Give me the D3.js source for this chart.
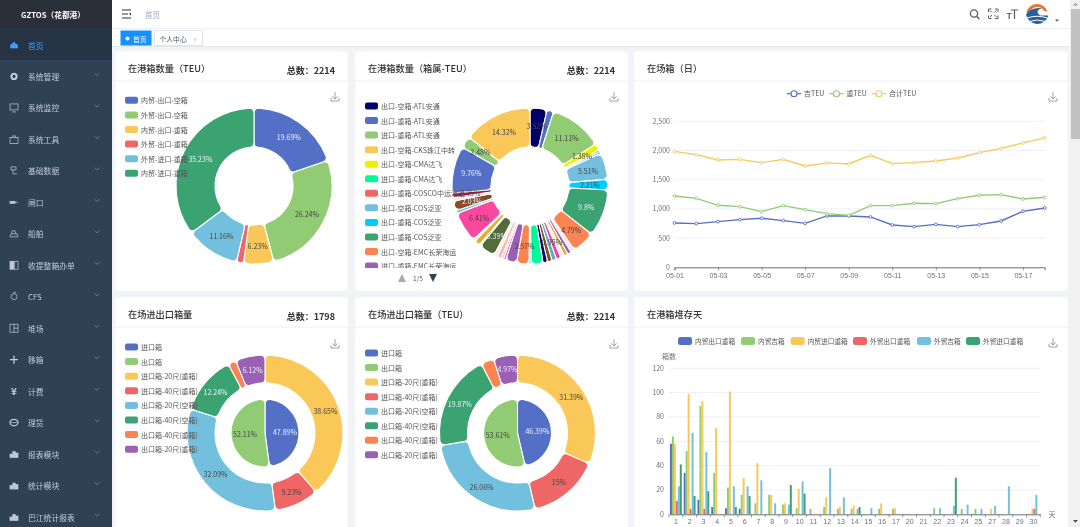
<!DOCTYPE html>
<html lang="zh"><head><meta charset="utf-8">
<script src="https://cdn.jsdelivr.net/npm/d3@7"></script>
<style>
html,body{margin:0;padding:0;overflow:hidden;background:#f2f3f7}
svg{display:block;font-family:"Noto Sans CJK SC","Noto Sans",sans-serif;filter:blur(.3px)}
text{dominant-baseline:central}
</style></head><body>
<svg id="c" width="1080" height="527"></svg>
<script>
// ---------- data ----------
const menuItems = ["首页","系统管理","系统监控","系统工具","基础数据","闸口","船舶","收提整箱办单","CFS","堆场","移箱","计费","理货","报表模块","统计模块","巴江统计报表"];

const pie1Names = ["内贸-出口-空箱","外贸-出口-空箱","内贸-出口-重箱","外贸-出口-重箱","外贸-进口-重箱","内贸-进口-重箱"];
const pie1Values = [19.69,26.24,6.23,1.45,11.16,35.23];
const pie1Labels = ["19.69%","26.24%","6.23%","","11.16%","35.23%"];

const pie2LegendNames = ["出口-空箱-ATL安通","出口-重箱-ATL安通","进口-重箱-ATL安通","出口-空箱-CKS珠江中转","出口-空箱-CMA达飞","进口-重箱-CMA达飞","出口-重箱-COSCO中远海运","出口-空箱-COS泛亚","出口-重箱-COS泛亚","进口-重箱-COS泛亚","出口-空箱-EMC长荣海运","进口-重箱-EMC长荣海运"];
const pie2LegendColors = ["#000066","#5470c6","#91cc75","#fac858","#f0f000","#00fa9a","#ee6666","#73c0de","#00ccff","#3ba272","#fc8452","#9a60b4"];
const pie2Values = [3.52,1.4,11.11,1.38,.4,.4,5.51,2.21,9.8,4.79,.8,.8,.8,.8,.95,.95,.95,.95,2.5,.4,2.57,2.3,.5,.5,.9,.7,3.39,.3,1.2,.4,6.41,.6,2.03,.7,.95,9.76,2.48,14.32];
const pie2Colors = ["#000066","#5470c6","#91cc75","#f0f000","#00fa9a","#ee6666","#73c0de","#00ccff","#3ba272","#fc8452","#f6e6f0","#9a60b4","#e0b030","#f6e6f0","#ff3d9a","#4bb5c4","#8b4a2b","#000066","#00fa9a","#00ccff","#fc8452","#9a60b4","#ff55cc","#ffc0cb","#ffb6a8","#f6e6f0","#556b3a","#7fd4c0","#e0b030","#f6f0e6","#f9489e","#4fc1c9","#8a4b2a","#f6e6f0","#a8123f","#5470c6","#91cc75","#fac858"];
const pie2Labels = ["3.52%","","11.11%","1.38%","","","5.51%","2.21%","9.8%","4.79%","","","","","0.95%","","","","","","2.57%","","","","","","3.39%","","","","6.41%","","2.03%","","0.95%","9.76%","2.48%","14.32%"];

const linkedLegendNames = ["进口箱","出口箱","进口箱-20尺(重箱)","进口箱-40尺(重箱)","出口箱-20尺(空箱)","出口箱-40尺(空箱)","出口箱-40尺(重箱)","出口箱-20尺(重箱)"];
const pie3Inner = [47.89,52.11];
const pie3Outer = [38.65,9.23,32.09,12.24,1.67,6.12];
const pie3OuterLabels = ["38.65%","9.23%","32.09%","12.24%","","6.12%"];
const pie4Inner = [46.39,53.61];
const pie4Outer = [31.39,15,26.06,19.87,2.71,4.97];
const pie4OuterLabels = ["31.39%","15%","26.06%","19.87%","","4.97%"];

const lineDates = ["05-01","05-02","05-03","05-04","05-05","05-06","05-07","05-08","05-09","05-10","05-11","05-12","05-13","05-14","05-15","05-16","05-17","05-18"];
const lineDateTicks = ["05-01","05-03","05-05","05-07","05-09","05-11","05-13","05-15","05-17"];
const lineYTicks = [0,500,1000,1500,2000,2500];
const lineNames = ["吉TEU","重TEU","合计TEU"];
const emptyTEU = [759,748,782,816,839,799,753,879,879,862,725,696,736,696,730,793,959,1016];
const fullTEU = [1221,1181,1062,1039,953,1056,987,919,890,1056,1056,1096,1090,1176,1233,1244,1170,1199];
const totalTEU = [1986,1929,1838,1849,1792,1849,1735,1787,1769,1918,1775,1792,1821,1872,1963,2037,2129,2215];

const barDays = ["1","2","3","4","5","6","7","8","9","10","11","12","13","14","15","16","17","20","21","22","23","24","25","27","28","29","30"];
const barYTicks = [0,20,40,60,80,100,120];
const barNames = ["内贸出口重箱","内贸吉箱","内贸进口重箱","外贸出口重箱","外贸吉箱","外贸进口重箱"];
const tradeExportFull = [58,34,12,6,5,4.5,0,0,0,0,0,0,0,0,0,0,0,0,0,0,0,0,0,0,0,0,0];
const tradeEmpty      = [64,52,89,34,22,16,9,16,8,5,4.5,6,4.5,4.5,0,4.5,4.5,0,0,5,0,4.5,4.5,0,0,0,0];
const tradeImportFull = [58,99,93,71,101,30,42,16,9,21,0,14,6,7,0,9,5,0,0,0,0,0,0,4.5,0,0,4.5];
const foreignExportFull=[11,4.5,4.5,0,0,0,0,0,0,0,0,0,0,0,0,0,0,0,0,0,0,0,0,0,0,0,4.5];
const foreignEmpty    = [23,67,51,0,23,23,28,9,8,27,0,38,14,4.5,5,0,0,0,0,5,7,8,4.5,7,23,0,16];
const foreignImportFull=[41,15,19,0,6,15,0,0,24,17,0,0,0,6,0,0,0,0,0,0,30,0,0,0,0,0,0];

const palette = ["#5470c6","#91cc75","#fac858","#ee6666","#73c0de","#3ba272","#fc8452","#9a60b4"];
const lightLabelOn = new Set(["#5470c6","#3ba272","#8a4b2a","#556b3a","#9a60b4"]);

// ---------- helpers ----------
const svg = d3.select("#c");
const ink = "#333", muted = "#6e7079";
const txt = (g,x,y,s,size,fill,anchor="start",weight=400)=>g.append("text").attr("x",x).attr("y",y).attr("font-size",size).attr("fill",fill).attr("text-anchor",anchor).attr("font-weight",weight).text(s);

function card(x,y,w,h,title,total){
  const g = svg.append("g");
  g.append("rect").attr("x",x).attr("y",y).attr("width",w).attr("height",h).attr("rx",3).attr("fill","#fff").attr("stroke","#eef0f5").attr("stroke-width",.5);
  g.append("line").attr("x1",x).attr("x2",x+w).attr("y1",y+30).attr("y2",y+30).attr("stroke","#eef0f5");
  txt(g,x+13,y+17,title,9.2,"#303133","start",500);
  if(total) txt(g,x+w-13,y+19,total,9,"#303133","end",700);
}
function download(x,y){
  svg.append("path").attr("d",`M${x-4},${y+1}v3h8v-3M${x},${y-5}v7M${x-2.6},${y-.6}L${x},${y+2}L${x+2.6},${y-.6}`).attr("fill","none").attr("stroke","#8c8c8c").attr("stroke-width",.8);
}
function legend(names,colors,x,y0,dy,size=7,parent=svg){
  names.forEach((n,i)=>{
    parent.append("rect").attr("x",x).attr("y",y0+i*dy-3.5).attr("width",13).attr("height",7).attr("rx",2).attr("fill",colors[i]);
    txt(parent,x+16,y0+i*dy,n,size,"#555");
  });
}
function donut(cx,cy,r0,r1,values,colors,labels,labelR){
  const g = svg.append("g").attr("transform",`translate(${cx},${cy})`);
  const arcs = d3.pie().sort(null)(values);
  const arc = d3.arc().innerRadius(r0).outerRadius(r1).cornerRadius(4.5);
  g.selectAll("path").data(arcs).join("path").attr("d",arc).attr("fill",(d,i)=>colors[i]).attr("stroke","#fff").attr("stroke-width",1.1);
  return ()=>{ arcs.forEach((d,i)=>{
    if(!labels[i]) return;
    const a=(d.startAngle+d.endAngle)/2;
    txt(g,Math.sin(a)*labelR,-Math.cos(a)*labelR,labels[i],7,lightLabelOn.has(colors[i])?"#eef1f8":"#444","middle");
  });};
}

// ---------- sidebar ----------
svg.append("rect").attr("width",1080).attr("height",527).attr("fill","#f2f3f7");
svg.append("rect").attr("width",112).attr("height",527).attr("fill","#304156");
svg.append("rect").attr("width",112).attr("height",28).attr("fill","#2b2f3a");
svg.append("rect").attr("y",28).attr("width",112).attr("height",32).attr("fill","#263445");
txt(svg,53,14,"GZTOS（花都港）",7.7,"#fff","middle",700);
const rowY = d3.scaleLinear().domain([0,15]).range([45,517]);
menuItems.forEach((m,i)=>{
  const y=rowY(i), c=i===0?"#409eff":"#bfcbd9", ic=svg.append("g").attr("fill",c).attr("stroke",c).attr("stroke-width",.7);
  txt(svg,28,y,m,7.8,c);
  if(i>0) svg.append("path").attr("d",`M94.5,${y-3}L97,${y-1}L99.5,${y-3}`).attr("fill","none").attr("stroke","#7d8a9a").attr("stroke-width",.7);
  const x=14;
  switch(i){
    case 0: ic.append("path").attr("d",`M${x-3.5},${y+3}v-3l2,-1l1.5,-2l1.5,2l2,1v3z`); break;
    case 1: ic.append("circle").attr("cx",x).attr("cy",y).attr("r",2.6).attr("fill","none").attr("stroke-width",2); break;
    case 2: ic.append("rect").attr("x",x-4).attr("y",y-4).attr("width",8).attr("height",6).attr("fill","none"); ic.append("path").attr("d",`M${x-2},${y+4}h4`); break;
    case 3: ic.append("rect").attr("x",x-4).attr("y",y-2).attr("width",8).attr("height",6).attr("fill","none"); ic.append("path").attr("d",`M${x-1.5},${y-2}v-1.5h3v1.5`).attr("fill","none"); break;
    case 4: ic.append("path").attr("d",`M${x-3},${y-4}h5v3h-5zM${x-1},${y-1}v4h4`).attr("fill","none"); break;
    case 5: ic.append("rect").attr("x",x-4).attr("y",y-1).attr("width",5).attr("height",2); ic.append("path").attr("d",`M${x+1},${y}h3`); break;
    case 6: ic.append("path").attr("d",`M${x-4},${y+3}h8l-1,-3h-6zM${x-2},${y}v-3h3l1,3`).attr("fill","none"); break;
    case 7: ic.append("rect").attr("x",x-4).attr("y",y-4).attr("width",3.6).attr("height",8); ic.append("rect").attr("x",x+.4).attr("y",y-4).attr("width",3.6).attr("height",8).attr("fill","none"); break;
    case 8: ic.append("circle").attr("cx",x).attr("cy",y).attr("r",3).attr("fill","none"); ic.append("path").attr("d",`M${x},${y-3}v-1.5h2`).attr("fill","none"); break;
    case 9: ic.append("rect").attr("x",x-4).attr("y",y-4).attr("width",8).attr("height",8).attr("fill","none"); ic.append("path").attr("d",`M${x},${y-4}v8M${x},${y}h4`); break;
    case 10: ic.append("path").attr("d",`M${x},${y-4}v8M${x-4},${y}h8`).attr("stroke-width",1.3); break;
    case 11: txt(svg,x,y-1,"¥",10,c,"middle",700); break;
    case 12: ic.append("ellipse").attr("cx",x).attr("cy",y).attr("rx",4).attr("ry",3.2).attr("fill","none").attr("stroke-width",1.2); ic.append("path").attr("d",`M${x-4},${y}h8`); break;
    default: [[-4,3.5],[-1.2,6],[1.6,4.5]].forEach(b=>ic.append("rect").attr("x",x+b[0]).attr("y",y+3.5-b[1]).attr("width",2.4).attr("height",b[1]));
  }
});

// ---------- header ----------
svg.append("rect").attr("x",112).attr("width",958).attr("height",46).attr("fill","#fff");
svg.append("line").attr("x1",112).attr("x2",1070).attr("y1",28.5).attr("y2",28.5).attr("stroke","#f0f0f3");
svg.append("line").attr("x1",112).attr("x2",1070).attr("y1",46.5).attr("y2",46.5).attr("stroke","#e4e6ec");
svg.append("path").attr("d","M122,10h9M122,14h6M122,18h9").attr("stroke","#303133").attr("stroke-width",1.2);
svg.append("path").attr("d","M131,12.5v3l-2,-1.5z").attr("fill","#303133");
txt(svg,145,14,"首页",7.5,"#97a8be");
svg.append("rect").attr("x",120.5).attr("y",30.5).attr("width",31).attr("height",15).attr("fill","#1890ff");
svg.append("circle").attr("cx",127.5).attr("cy",38.5).attr("r",2).attr("fill","#fff");
txt(svg,133,38.5,"首页",6.8,"#fff");
svg.append("rect").attr("x",154.5).attr("y",30.5).attr("width",48).attr("height",15).attr("fill","#fff").attr("stroke","#d8dce5").attr("stroke-width",.7);
txt(svg,159.5,38.5,"个人中心",6.8,"#495060");
txt(svg,192.5,38.5,"×",5,"#999");
svg.append("circle").attr("cx",974).attr("cy",13.5).attr("r",3.6).attr("fill","none").attr("stroke","#5a5e66").attr("stroke-width",1.3);
svg.append("path").attr("d","M976.6,16.2L979.5,19").attr("stroke","#5a5e66").attr("stroke-width",1.5);
svg.append("path").attr("d","M988.5,12v-3h3M995,9h3v3M998,15.5v3h-3M991.5,18.5h-3v-3M990,10.5l2,2M996.5,10.5l-2,2M996.5,17l-2,-2M990,17l2,-2").attr("fill","none").attr("stroke","#5a5e66").attr("stroke-width",1);
svg.append("path").attr("d","M1011,10h7M1014.5,10v9M1007,13.5h4.5M1009.2,13.5v5.5").attr("fill","none").attr("stroke","#5a5e66").attr("stroke-width",1.2);
svg.append("path").attr("d","M1026.5,12A11,11 0 0 1 1047.5,11.5L1044,11A7.5,7.5 0 0 0 1030,13Z").attr("fill","#e8772e");
svg.append("path").attr("d","M1026,14.5A11.5,11.5 0 0 0 1048.4,15.5L1040,15.5Q1034,11 1042,8Q1030,7 1026,14.5Z").attr("fill","#2a5f9e");
svg.append("path").attr("d","M1027,18Q1037,14.5 1047.5,18M1029,21.5Q1037,18.5 1045.5,21.5").attr("fill","none").attr("stroke","#fff").attr("stroke-width",1);
svg.append("path").attr("d","M1055,19.5h4l-2,2.2z").attr("fill","#5a5e66");

// ---------- cards ----------
card(115,51,233,240,"在港箱数量（TEU）","总数：2214");
card(355,51,273,240,"在港箱数量（箱属-TEU）","总数：2214");
card(634,51,434,240,"在场箱（日）");
card(115,297,233,235,"在场进出口箱量","总数：1798");
card(355,297,273,235,"在场进出口箱量（TEU）","总数：2214");
card(634,297,434,235,"在港箱堆存天");
[[335,97],[614,97],[1053,97],[335,344],[614,344],[1053,343]].forEach(p=>download(p[0],p[1]));

// ---------- pies ----------
const lab1 = donut(254,186,39,78,pie1Values,palette,pie1Labels,60);
legend(pie1Names,palette,125,100.3,14.6);
lab1();

const lab2 = donut(530,186,39,78,pie2Values,pie2Colors,pie2Labels,60);
svg.append("clipPath").attr("id","lg2").append("rect").attr("x",355).attr("y",98).attr("width",200).attr("height",170);
const lg2 = svg.append("g").attr("clip-path","url(#lg2)");
legend(pie2LegendNames,pie2LegendColors,365,106,14.55,7,lg2);
lab2();
svg.append("path").attr("d","M398,282L402,274L406,282Z").attr("fill","#aaa");
txt(svg,418,277.5,"1/5",6.5,"#555","middle");
svg.append("path").attr("d","M429,274L437,274L433,282Z").attr("fill","#2f4554");

const linkedColors = palette.slice(2);
const lab3a = donut(265,433,50,78,pie3Outer,linkedColors,pie3OuterLabels,64.5);
const lab3b = donut(265,433,0,34,pie3Inner,palette,["47.89%","52.11%"],20);
legend(linkedLegendNames,palette,125,347,14.6);
lab3a(); lab3b();

const lab4a = donut(517.5,433,50,78,pie4Outer,linkedColors,pie4OuterLabels,64.5);
const lab4b = donut(517.5,433,0,34,pie4Inner,palette,["46.39%","53.61%"],20);
legend(linkedLegendNames,palette,365,353,14.55);
lab4a(); lab4b();

// ---------- line chart ----------
const lx = d3.scalePoint().domain(lineDates).range([674.5,1044.7]);
const ly = d3.scaleLinear().domain([0,2500]).range([267.3,121.3]);
const lineG = svg.append("g");
lineG.selectAll("line.g").data(lineYTicks.slice(1)).join("line").attr("x1",674.5).attr("x2",1044.7).attr("y1",d=>ly(d)).attr("y2",d=>ly(d)).attr("stroke","#e9ecf5").attr("stroke-width",.8);
const lxAxis = svg.append("g").attr("transform","translate(0,267.3)").call(d3.axisBottom(lx).tickValues(lineDateTicks).tickSize(3).tickPadding(1));
lxAxis.select(".domain").attr("stroke",muted);
lxAxis.selectAll("line").attr("stroke",muted).attr("stroke-width",.7);
lxAxis.selectAll("text").attr("font-size",7).attr("fill",muted).attr("font-family","inherit").attr("dy",".6em");
lineYTicks.forEach(t=>txt(svg,670,ly(t)-.5,d3.format(",")(t),7,muted,"end"));
[emptyTEU,fullTEU,totalTEU].forEach((vals,s)=>{
  svg.append("path").attr("d",d3.line().x((d,i)=>lx(lineDates[i])).y(d=>ly(d))(vals)).attr("fill","none").attr("stroke",palette[s]).attr("stroke-width",1.35);
  svg.append("g").selectAll("circle").data(vals).join("circle").attr("cx",(d,i)=>lx(lineDates[i])).attr("cy",d=>ly(d)).attr("r",1.4).attr("fill","#fff").attr("stroke",palette[s]).attr("stroke-width",.9);
});
[787,829.5,872].forEach((x,i)=>{
  svg.append("line").attr("x1",x).attr("x2",x+14).attr("y1",93.7).attr("y2",93.7).attr("stroke",palette[i]).attr("stroke-width",1.2);
  svg.append("circle").attr("cx",x+7).attr("cy",93.7).attr("r",3).attr("fill","#fff").attr("stroke",palette[i]).attr("stroke-width",1.1);
  txt(svg,x+17,93.2,lineNames[i],7,"#555");
});

// ---------- bar chart ----------
const bx = d3.scaleBand().domain(barDays).range([669,1040.3]);
const by = d3.scaleLinear().domain([0,120]).range([514.3,368.3]);
const bs = d3.scaleBand().domain(d3.range(6)).range([.07,.93].map(f=>f*bx.bandwidth()));
svg.append("g").selectAll("line").data(barYTicks.slice(1)).join("line").attr("x1",669).attr("x2",1040.3).attr("y1",d=>by(d)).attr("y2",d=>by(d)).attr("stroke","#e9ecf5").attr("stroke-width",.8);
[tradeExportFull,tradeEmpty,tradeImportFull,foreignExportFull,foreignEmpty,foreignImportFull].forEach((vals,s)=>{
  svg.append("g").selectAll("rect").data(vals).join("rect")
    .attr("x",(d,i)=>bx(barDays[i])+bs(s)).attr("width",bs.bandwidth()).attr("y",d=>by(d)).attr("height",d=>by(0)-by(d)).attr("fill",palette[s]);
});
const bxAxis = svg.append("g").attr("transform","translate(0,514.3)").call(d3.axisBottom(bx).tickSize(0).tickPadding(2));
bxAxis.select(".domain").attr("stroke",muted);
bxAxis.selectAll("text").attr("font-size",7).attr("fill",muted).attr("font-family","inherit").attr("dy",".68em");
svg.append("g").selectAll("line").data(barDays.concat("end")).join("line")
  .attr("x1",(d,i)=>669+i*bx.bandwidth()).attr("x2",(d,i)=>669+i*bx.bandwidth()).attr("y1",514.3).attr("y2",517.3).attr("stroke",muted).attr("stroke-width",.7);
barYTicks.forEach(t=>txt(svg,664,by(t)-.5,t,7,muted,"end"));
txt(svg,669,356,"箱数",7,muted,"middle");
txt(svg,1052,514,"天",7,muted,"middle");
[678,741,790.7,853,917,966].forEach((x,i)=>{
  svg.append("rect").attr("x",x).attr("y",337).attr("width",14).attr("height",8).attr("rx",2.5).attr("fill",palette[i]);
  txt(svg,x+17,340.7,barNames[i],6.7,"#555");
});

// ---------- scrollbar ----------
svg.append("rect").attr("x",1070).attr("width",10).attr("height",527).attr("fill","#f1f1f1");
svg.append("rect").attr("x",1071).attr("y",9).attr("width",9).attr("height",130).attr("fill","#c1c1c1");
svg.append("path").attr("d","M1073,5.5L1075.5,2.8L1078,5.5Z").attr("fill","#a3a3a3");
svg.append("path").attr("d","M1073,520L1075.5,522.8L1078,520Z").attr("fill","#505050");
</script>
</body></html>
